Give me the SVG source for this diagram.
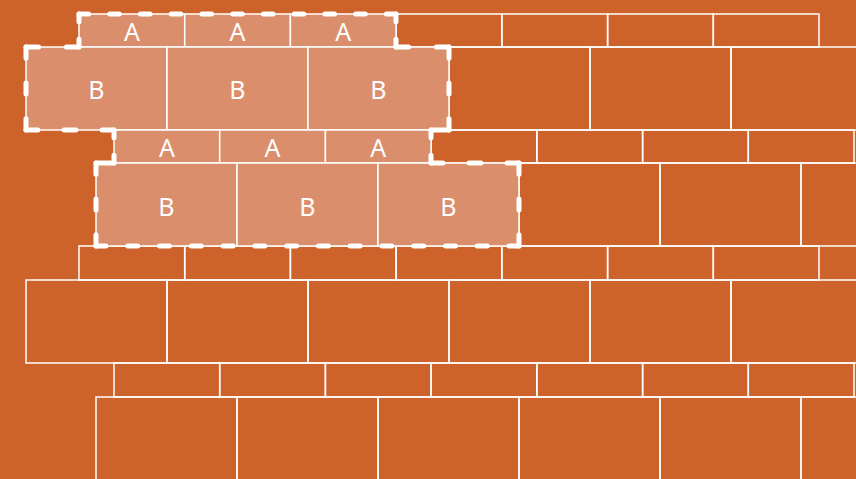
<svg xmlns="http://www.w3.org/2000/svg" width="856" height="479" viewBox="0 0 856 479">
<style>
.b{fill:none;stroke:#fff;stroke-width:1.5}
.h{fill:#DB8E6B;stroke:#fff;stroke-width:1.5}
.t{font-family:"Noto Sans","Open Sans",sans-serif;font-size:25px;fill:#fff;text-anchor:middle;dominant-baseline:central}
.o line{fill:none;stroke:#fff;stroke-width:5;stroke-dasharray:10 22;stroke-linecap:round}
</style>
<rect width="856" height="479" fill="#CD622B"/>
<g id="plain-bricks">
<rect class="b" x="396.1" y="14" width="105.7" height="33"/>
<rect class="b" x="501.9" y="14" width="105.7" height="33"/>
<rect class="b" x="607.6" y="14" width="105.7" height="33"/>
<rect class="b" x="713.3" y="14" width="105.7" height="33"/>
<rect class="b" x="449" y="47" width="141" height="83"/>
<rect class="b" x="590" y="47" width="141" height="83"/>
<rect class="b" x="731" y="47" width="141" height="83"/>
<rect class="b" x="431.1" y="130" width="105.7" height="33"/>
<rect class="b" x="536.9" y="130" width="105.7" height="33"/>
<rect class="b" x="642.6" y="130" width="105.7" height="33"/>
<rect class="b" x="748.3" y="130" width="105.7" height="33"/>
<rect class="b" x="519" y="163" width="141" height="83"/>
<rect class="b" x="660" y="163" width="141" height="83"/>
<rect class="b" x="801" y="163" width="141" height="83"/>
<rect class="b" x="79" y="246" width="105.7" height="34"/>
<rect class="b" x="184.7" y="246" width="105.7" height="34"/>
<rect class="b" x="290.4" y="246" width="105.7" height="34"/>
<rect class="b" x="396.1" y="246" width="105.7" height="34"/>
<rect class="b" x="501.9" y="246" width="105.7" height="34"/>
<rect class="b" x="607.6" y="246" width="105.7" height="34"/>
<rect class="b" x="713.3" y="246" width="105.7" height="34"/>
<rect class="b" x="26" y="280" width="141" height="83"/>
<rect class="b" x="167" y="280" width="141" height="83"/>
<rect class="b" x="308" y="280" width="141" height="83"/>
<rect class="b" x="449" y="280" width="141" height="83"/>
<rect class="b" x="590" y="280" width="141" height="83"/>
<rect class="b" x="731" y="280" width="141" height="83"/>
<rect class="b" x="114" y="363" width="105.7" height="34"/>
<rect class="b" x="219.7" y="363" width="105.7" height="34"/>
<rect class="b" x="325.4" y="363" width="105.7" height="34"/>
<rect class="b" x="431.1" y="363" width="105.7" height="34"/>
<rect class="b" x="536.9" y="363" width="105.7" height="34"/>
<rect class="b" x="642.6" y="363" width="105.7" height="34"/>
<rect class="b" x="748.3" y="363" width="105.7" height="34"/>
<rect class="b" x="96" y="397" width="141" height="90"/>
<rect class="b" x="237" y="397" width="141" height="90"/>
<rect class="b" x="378" y="397" width="141" height="90"/>
<rect class="b" x="519" y="397" width="141" height="90"/>
<rect class="b" x="660" y="397" width="141" height="90"/>
<rect class="b" x="801" y="397" width="141" height="90"/>
</g>
<g id="a1"><rect class="h" x="79" y="14" width="105.7" height="33"/><text class="t" x="131.9" y="31">A</text></g>
<g id="a2"><rect class="h" x="184.7" y="14" width="105.7" height="33"/><text class="t" x="237.6" y="31">A</text></g>
<g id="a3"><rect class="h" x="290.4" y="14" width="105.7" height="33"/><text class="t" x="343.3" y="31">A</text></g>
<g id="b1"><rect class="h" x="26" y="47" width="141" height="83"/><text class="t" x="96.5" y="89">B</text></g>
<g id="b2"><rect class="h" x="167" y="47" width="141" height="83"/><text class="t" x="237.5" y="89">B</text></g>
<g id="b3"><rect class="h" x="308" y="47" width="141" height="83"/><text class="t" x="378.5" y="89">B</text></g>
<g id="a4"><rect class="h" x="114" y="130" width="105.7" height="33"/><text class="t" x="166.9" y="147">A</text></g>
<g id="a5"><rect class="h" x="219.7" y="130" width="105.7" height="33"/><text class="t" x="272.6" y="147">A</text></g>
<g id="a6"><rect class="h" x="325.4" y="130" width="105.7" height="33"/><text class="t" x="378.3" y="147">A</text></g>
<g id="b4"><rect class="h" x="96" y="163" width="141" height="83"/><text class="t" x="166.5" y="206">B</text></g>
<g id="b5"><rect class="h" x="237" y="163" width="141" height="83"/><text class="t" x="307.5" y="206">B</text></g>
<g id="b6"><rect class="h" x="378" y="163" width="141" height="83"/><text class="t" x="448.5" y="206">B</text></g>
<g id="outline" class="o">
<line x1="79" y1="14" x2="396" y2="14" pathLength="330"/>
<line x1="396" y1="14" x2="396" y2="47" pathLength="42"/>
<line x1="396" y1="47" x2="449" y2="47" pathLength="42"/>
<line x1="449" y1="47" x2="449" y2="130" pathLength="74"/>
<line x1="449" y1="130" x2="431" y2="130" pathLength="10"/>
<line x1="431" y1="130" x2="431" y2="163" pathLength="42"/>
<line x1="431" y1="163" x2="519" y2="163" pathLength="74"/>
<line x1="519" y1="163" x2="519" y2="246" pathLength="74"/>
<line x1="519" y1="246" x2="96" y2="246" pathLength="426"/>
<line x1="96" y1="246" x2="96" y2="163" pathLength="74"/>
<line x1="96" y1="163" x2="114" y2="163" pathLength="10"/>
<line x1="114" y1="163" x2="114" y2="130" pathLength="42"/>
<line x1="114" y1="130" x2="26" y2="130" pathLength="74"/>
<line x1="26" y1="130" x2="26" y2="47" pathLength="74"/>
<line x1="26" y1="47" x2="79" y2="47" pathLength="42"/>
<line x1="79" y1="47" x2="79" y2="14" pathLength="42"/>
</g>
</svg>
